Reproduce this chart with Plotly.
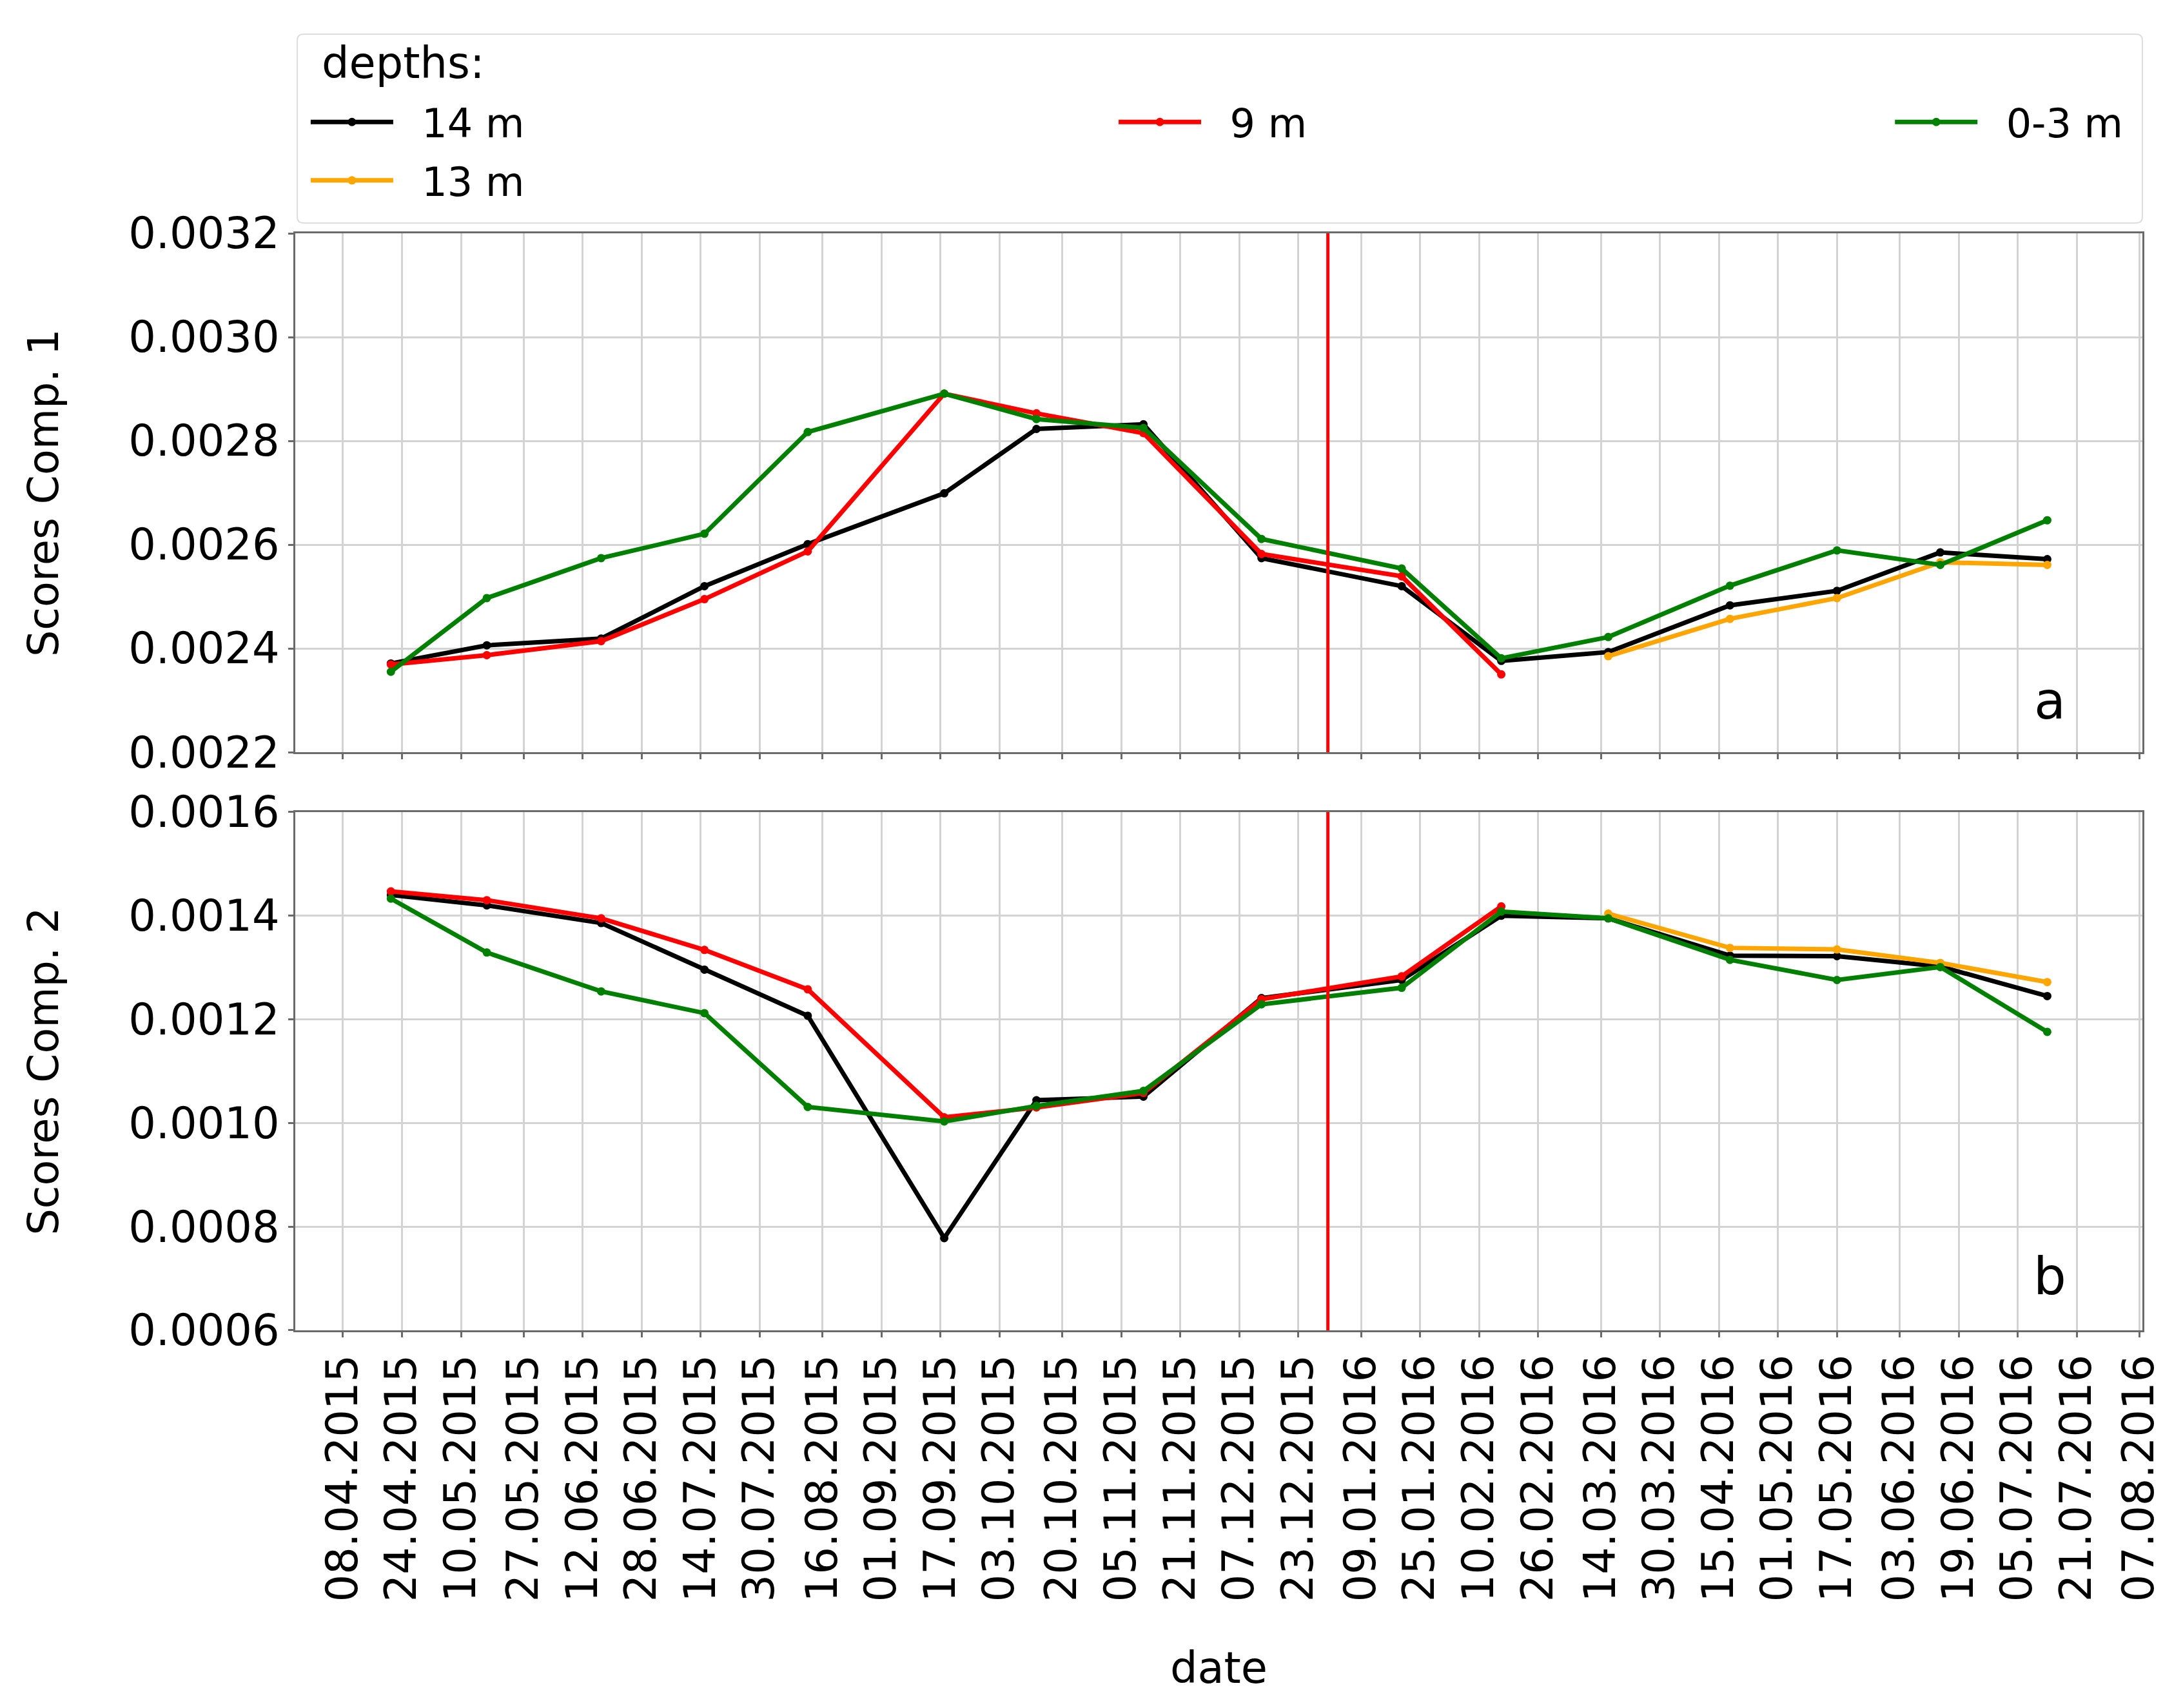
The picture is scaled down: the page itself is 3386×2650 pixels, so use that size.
import plotly.graph_objects as go
from datetime import datetime

# ---------------- data ----------------
dates = ["2015-04-21", "2015-05-17", "2015-06-17", "2015-07-15", "2015-08-12",
         "2015-09-18", "2015-10-13", "2015-11-11", "2015-12-13", "2016-01-20",
         "2016-02-16", "2016-03-16", "2016-04-18", "2016-05-17", "2016-06-14",
         "2016-07-13"]

comp1_14m = [0.002371, 0.002406, 0.002419, 0.002520, 0.002601, 0.002699, 0.002823, 0.002832,
             0.002574, 0.002520, 0.002376, 0.002393, 0.002483, 0.002511, 0.002585, 0.002572]
comp1_13m = [None] * 11 + [0.002385, 0.002457, 0.002497, 0.002566, 0.002561]
comp1_9m = [0.002369, 0.002387, 0.002414, 0.002495, 0.002587, 0.002891, 0.002853, 0.002815,
            0.002582, 0.002539, 0.002350] + [None] * 5
comp1_03m = [0.002355, 0.002497, 0.002574, 0.002621, 0.002817, 0.002891, 0.002842, 0.002825,
             0.002611, 0.002554, 0.002381, 0.002422, 0.002521, 0.002589, 0.002561, 0.002647]

comp2_14m = [0.001440, 0.001420, 0.001386, 0.001296, 0.001207, 0.000778, 0.001044, 0.001051,
             0.001241, 0.001276, 0.001400, 0.001395, 0.001323, 0.001322, 0.001302, 0.001245]
comp2_13m = [None] * 11 + [0.001404, 0.001338, 0.001335, 0.001309, 0.001272]
comp2_9m = [0.001447, 0.001430, 0.001395, 0.001334, 0.001258, 0.001011, 0.001030, 0.001058,
            0.001239, 0.001283, 0.001418] + [None] * 5
comp2_03m = [0.001433, 0.001329, 0.001254, 0.001212, 0.001031, 0.001003, 0.001033, 0.001062,
             0.001229, 0.001261, 0.001408, 0.001395, 0.001315, 0.001276, 0.001301, 0.001176]

event_date = "2015-12-31"

tick_labels = ["08.04.2015", "24.04.2015", "10.05.2015", "27.05.2015", "12.06.2015",
               "28.06.2015", "14.07.2015", "30.07.2015", "16.08.2015", "01.09.2015",
               "17.09.2015", "03.10.2015", "20.10.2015", "05.11.2015", "21.11.2015",
               "07.12.2015", "23.12.2015", "09.01.2016", "25.01.2016", "10.02.2016",
               "26.02.2016", "14.03.2016", "30.03.2016", "15.04.2016", "01.05.2016",
               "17.05.2016", "03.06.2016", "19.06.2016", "05.07.2016", "21.07.2016",
               "07.08.2016"]

series_names = ["14 m", "13 m", "9 m", "0-3 m"]
series_colors = ["black", "#FFA500", "#FF0000", "#008000"]
series_legends = ["legend", "legend", "legend2", "legend3"]
comp1 = [comp1_14m, comp1_13m, comp1_9m, comp1_03m]
comp2 = [comp2_14m, comp2_13m, comp2_9m, comp2_03m]

# ---------------- figure ----------------
FONT = "DejaVu Sans"
FS = 67
LFS = 62
GAP = "\u00a0\u00a0"

fig = go.Figure()
for name, color, leg, v1, v2 in zip(series_names, series_colors, series_legends, comp1, comp2):
    fig.add_trace(go.Scatter(x=dates, y=v1, name=GAP + name, mode="lines+markers",
                             line=dict(color=color, width=7), marker=dict(color=color, size=13),
                             xaxis="x", yaxis="y", legend=leg, legendgroup=name,
                             showlegend=True))
    fig.add_trace(go.Scatter(x=dates, y=v2, name=GAP + name, mode="lines+markers",
                             line=dict(color=color, width=7), marker=dict(color=color, size=13),
                             xaxis="x2", yaxis="y2", legend=leg, legendgroup=name,
                             showlegend=False))

tickvals = [datetime.strptime(t, "%d.%m.%Y") for t in tick_labels]

axis_common = dict(showline=True, linecolor="#6a6a6a", linewidth=3, mirror=True,
                   showgrid=True, gridcolor="#d3d3d3", gridwidth=3,
                   ticks="outside", ticklen=8, tickwidth=3, tickcolor="#6a6a6a",
                   tickfont=dict(family=FONT, size=FS, color="black"), zeroline=False)

xrange = ["2015-03-26 02:00", "2016-08-07 19:00"]

leg_common = dict(xanchor="left", yanchor="top", orientation="v",
                  bgcolor="rgba(0,0,0,0)", borderwidth=0, itemwidth=128,
                  tracegroupgap=7, font=dict(family=FONT, size=LFS, color="black"))

fig.update_layout(
    width=3386, height=2650,
    margin=dict(l=450, r=71, t=354, b=594),
    paper_bgcolor="white", plot_bgcolor="white",
    font=dict(family=FONT, size=FS, color="black"),
    xaxis=dict(domain=[0, 1], anchor="y", type="date", range=xrange, matches="x2",
               tickvals=tickvals, ticktext=tick_labels, showticklabels=False, **axis_common),
    xaxis2=dict(domain=[0, 1], anchor="y2", type="date", range=xrange,
                tickvals=tickvals, ticktext=tick_labels, tickangle=-90,
                title=dict(text="date", font=dict(family=FONT, size=FS), standoff=80),
                **axis_common),
    yaxis=dict(domain=[0.5270, 1], anchor="x", range=[0.0022, 0.0032], dtick=0.0002,
               tick0=0.0022, tickformat=".4f",
               title=dict(text="Scores Comp. 1", font=dict(family=FONT, size=65), standoff=88),
               **axis_common),
    yaxis2=dict(domain=[0, 0.4724], anchor="x2", range=[0.0006, 0.0016], dtick=0.0002,
                tick0=0.0006, tickformat=".4f",
                title=dict(text="Scores Comp. 2", font=dict(family=FONT, size=65), standoff=88),
                **axis_common),
    legend=dict(x=0.0066, y=1.1290, **leg_common),
    legend2=dict(x=0.4440, y=1.1290, **leg_common),
    legend3=dict(x=0.8643, y=1.1290, **leg_common),
)

# legend frame (rounded rectangle in paper coordinates)
x0, x1, y0, y1 = 0.00105, 1.0, 1.0094, 1.1816
rx, ry = 0.0035, 0.0059
frame = (f"M {x0+rx},{y1} L {x1-rx},{y1} Q {x1},{y1} {x1},{y1-ry} "
         f"L {x1},{y0+ry} Q {x1},{y0} {x1-rx},{y0} L {x0+rx},{y0} Q {x0},{y0} {x0},{y0+ry} "
         f"L {x0},{y1-ry} Q {x0},{y1} {x0+rx},{y1} Z")
fig.add_shape(type="path", xref="paper", yref="paper", path=frame,
              line=dict(color="#dedede", width=2), fillcolor="white", layer="below")

fig.add_annotation(text="depths:", xref="paper", yref="paper", x=0.0136, y=1.1550,
                   xanchor="left", yanchor="middle", showarrow=False,
                   font=dict(family=FONT, size=FS, color="black"))

# event line in both panels
for xr, yr in (("x", "y domain"), ("x2", "y2 domain")):
    fig.add_shape(type="line", xref=xr, yref=yr, x0=event_date, x1=event_date, y0=0, y1=1,
                  line=dict(color="#FF0000", width=5))

# panel letters
fig.add_annotation(text="a", xref="x domain", yref="y domain", x=0.950, y=0.099,
                   showarrow=False, xanchor="center", yanchor="middle",
                   font=dict(family=FONT, size=80, color="black"))
fig.add_annotation(text="b", xref="x2 domain", yref="y2 domain", x=0.950, y=0.104,
                   showarrow=False, xanchor="center", yanchor="middle",
                   font=dict(family=FONT, size=80, color="black"))

fig.write_html("out.html")
